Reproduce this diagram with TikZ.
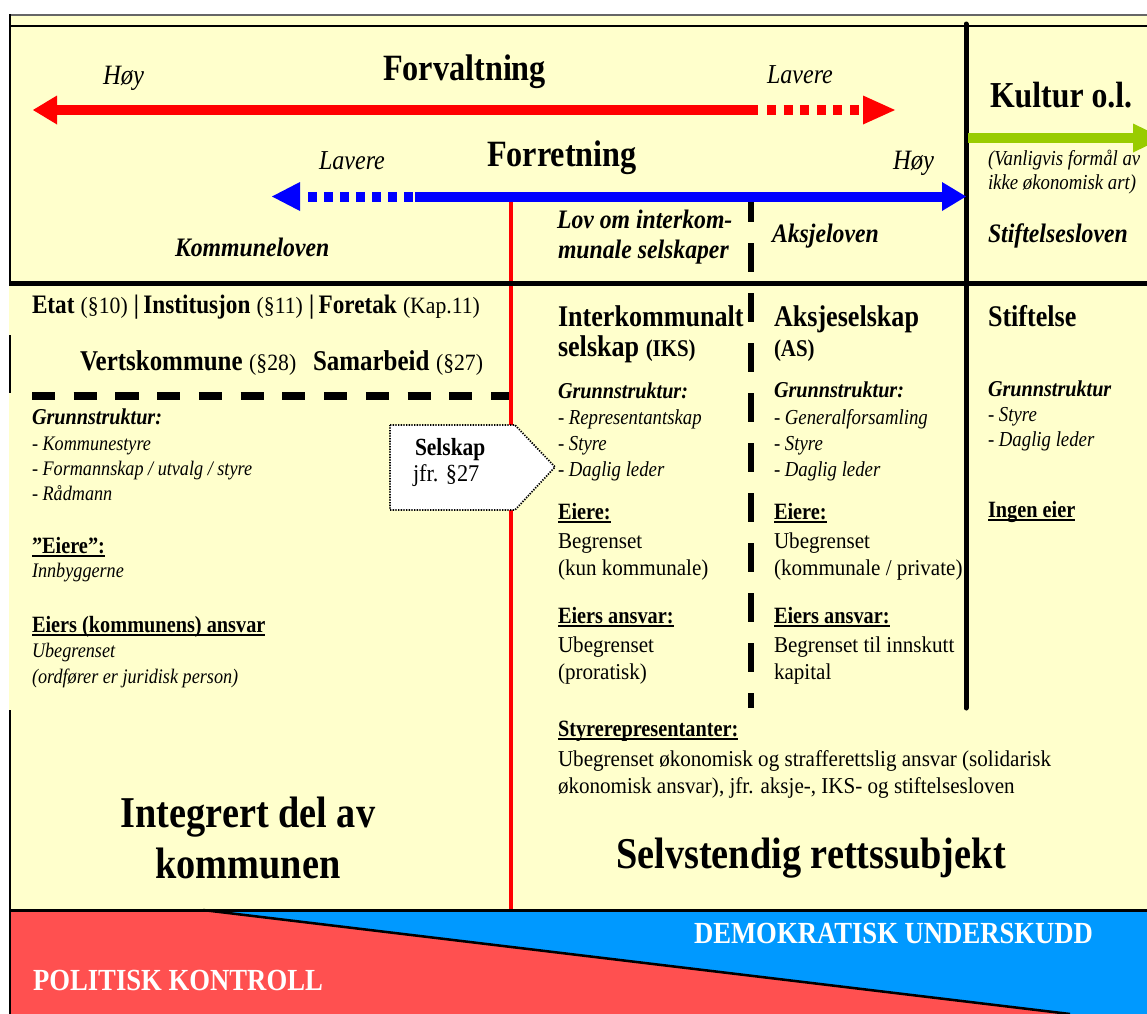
\documentclass[tikz,border=0pt]{standalone}
\usepackage{fontspec}
\setmainfont{Liberation Serif}[
  UprightFeatures={FakeStretch=0.93},
  ItalicFeatures={FakeStretch=0.88},
  BoldFeatures={FakeStretch=0.87},
  BoldItalicFeatures={FakeStretch=0.89}]
\definecolor{paper}{HTML}{FFFFCC}
\definecolor{barred}{HTML}{FF0000}
\definecolor{barblue}{HTML}{0000FF}
\definecolor{bargreen}{HTML}{99CC00}
\definecolor{bandred}{HTML}{FF5050}
\definecolor{bandblue}{HTML}{0099FF}
\newcommand\fsz[1]{\fontsize{#1pt}{#1pt}\selectfont}
\newcommand\ulin[1]{\setbox0=\hbox{#1}\rlap{\rule[-3.2pt]{\wd0}{1.6pt}}\box0}
\tikzset{
  tl/.style={anchor=base west, inner sep=0pt, outer sep=0pt},
  tc/.style={anchor=base, inner sep=0pt, outer sep=0pt},
  hd/.style={font=\fsz{20}\bfseries\itshape},
  sub/.style={font=\fsz{17}\bfseries\itshape},
  item/.style={font=\fsz{16}\itshape},
  body/.style={font=\fsz{17}},
  ulh/.style={font=\fsz{17.5}\bfseries},
}
\begin{document}
\begin{tikzpicture}[x=0.75pt,y=-0.75pt]
\useasboundingbox (0,0) rectangle (1147,1014);
\fill[white] (0,0) rectangle (1147,1014);
% background panel
\fill[paper] (9,14) rectangle (1147,910);

% outer frame lines
\draw[black!60, line width=1.5pt] (9,14.5) -- (1147,14.5);
\draw[black, line width=1.5pt] (9,25.5) -- (1147,25.5);
\draw[black, line width=1.5pt] (9.5,14) -- (9.5,283);
\draw[black, line width=1.5pt] (9.5,335) -- (9.5,393);
\draw[black, line width=1.5pt] (9.5,710) -- (9.5,1014);

% red separator between integrated and independent units
\coordinate (redtop) at (511,202);
\coordinate (redbot) at (511,910);
\draw[barred, line width=3pt] (redtop) -- (redbot);

% dashed separator IKS / AS
\coordinate (dashtop) at (751,193);
\coordinate (dashbot) at (751,708);
\draw[black, line width=4.5pt, dash pattern=on 21.75pt off 15.75pt] (dashtop) -- (dashbot);

% solid separator AS / foundation
\coordinate (soltop) at (966,24);
\coordinate (solbot) at (966,708);
\draw[black, line width=3.75pt, line cap=round] (soltop) -- (solbot);

% horizontal divider
\draw[black, line width=3.75pt] (9,283) -- (1147,283);

% dashed line under the municipal forms
\draw[black, line width=6pt, dash pattern=on 17.3pt off 14pt] (32,396) -- (509,396);

% --- red scale (Forvaltning) ---
\fill[barred] (33,110) -- (57,95.5) -- (57,124.5) -- cycle;
\fill[barred] (56,105) rectangle (758,115);
\draw[barred, line width=7.5pt, dash pattern=on 6.75pt off 5.7pt] (767,110) -- (860,110);
\fill[barred] (895,110) -- (863,95.5) -- (863,124.5) -- cycle;

% --- blue scale (Forretning) ---
\fill[barblue] (272,196.5) -- (300,182) -- (300,211) -- cycle;
\draw[barblue, line width=7.5pt, dash pattern=on 6.75pt off 5.25pt] (308,196.5) -- (414,196.5);
\fill[barblue] (415,191.5) rectangle (943,201.5);
\fill[barblue] (966,196.5) -- (942,182) -- (942,211) -- cycle;

% --- green arrow (Kultur) ---
\fill[bargreen] (968,133) rectangle (1134,143);
\fill[bargreen] (1163,138) -- (1133,123.5) -- (1133,152.5) -- cycle;

% top labels
\node[tl] (hoyA) at (103,84) {\fsz{21}\itshape Høy};
\node[tl] (forv) at (383,80) {\fsz{27.8}\bfseries Forvaltning};
\node[tl] (lavA) at (767,83) {\fsz{20.5}\itshape Lavere};
\node[tl] (forr) at (487,166) {\fsz{27.8}\bfseries Forretning};
\node[tl] (lavB) at (319,169) {\fsz{20.5}\itshape Lavere};
\node[tl] (hoyB) at (893,169) {\fsz{21}\itshape Høy};
\node[tl] (kult) at (990,107) {\fsz{27.4}\bfseries Kultur o.l.};
\node[tl] (vanl1) at (988,165) {\fsz{16}\itshape (Vanligvis formål av};
\node[tl] (vanl2) at (988,189) {\fsz{16}\itshape ikke økonomisk art)};
\node[tl, hd] (komlov) at (175,256) {Kommuneloven};
\node[tl, hd] (ikslov1) at (557,228) {Lov om interkom-};
\node[tl, hd] (ikslov2) at (558,258) {munale selskaper};
\node[tl, hd] (akslov) at (772,242) {Aksjeloven};
\node[tl, hd] (stlov) at (988,242) {Stiftelsesloven};

% left column: municipal forms
\node[tl] (etat) at (32,313) {\fsz{20}\textbf{Etat} {\fsz{17.5}(§10)} \textbf{|\,Institusjon} {\fsz{17.5}(§11)} \textbf{|\,Foretak} {\fsz{17.5}(Kap.11)}};
\node[tl] (vertsk) at (80,370) {\fsz{21.5}\textbf{Vertskommune} {\fsz{17.5}(§28)}};
\node[tl] (samarb) at (313,370) {\fsz{21.5}\textbf{Samarbeid} {\fsz{17.5}(§27)}};

\node[tl, sub] (lgs) at (32,424) {Grunnstruktur:};
\node[tl, item, font=\fsz{15.5}\itshape] (li1) at (32,450) {- Kommunestyre};
\node[tl, item, font=\fsz{15.5}\itshape] (li2) at (32,475) {- Formannskap / utvalg / styre};
\node[tl, item, font=\fsz{15.5}\itshape] (li3) at (32,500) {- Rådmann};
\node[tl, ulh] (leie) at (32,553) {\ulin{”Eiere”:}};
\node[tl, item, font=\fsz{15.5}\itshape] (leie1) at (32,577) {Innbyggerne};
\node[tl, ulh] (lans) at (32,632) {\ulin{Eiers (kommunens) ansvar}};
\node[tl, item, font=\fsz{15.5}\itshape] (lans1) at (32,657) {Ubegrenset};
\node[tl, item, font=\fsz{15.5}\itshape] (lans2) at (32,683) {(ordfører er juridisk person)};

% company box pointing into the IKS column
\draw[black, line width=1.3pt, dash pattern=on 1pt off 1pt, fill=white]
  (390,425) -- (515,425) -- (555,467) -- (515,510) -- (390,510) -- cycle;
\node[tl] (selsk1) at (415,455) {\fsz{18.5}\bfseries Selskap};
\node[tl] (selsk2) at (413,481) {\fsz{18}jfr. §27};

% IKS column
\node[tl] (iksh1) at (558,326) {\fsz{22.5}\bfseries Interkommunalt};
\node[tl] (iksh2) at (558,356) {\fsz{22.5}\bfseries selskap {\fsz{18}(IKS)}};
\node[tl, sub] (iksgs) at (558,398) {Grunnstruktur:};
\node[tl, item] (iksi1) at (558,424) {- Representantskap};
\node[tl, item] (iksi2) at (558,450) {- Styre};
\node[tl, item] (iksi3) at (558,476) {- Daglig leder};
\node[tl, ulh] (ikse) at (558,519) {\ulin{Eiere:}};
\node[tl, body] (ikse1) at (558,548) {Begrenset};
\node[tl, body] (ikse2) at (558,575) {(kun kommunale)};
\node[tl, ulh] (iksa) at (558,623) {\ulin{Eiers ansvar:}};
\node[tl, body] (iksa1) at (558,652) {Ubegrenset};
\node[tl, body] (iksa2) at (558,679) {(proratisk)};

% AS column
\node[tl] (ash1) at (774,326) {\fsz{22.5}\bfseries Aksjeselskap};
\node[tl] (ash2) at (774,356) {\fsz{18}\bfseries (AS)};
\node[tl, sub] (asgs) at (774,397) {Grunnstruktur:};
\node[tl, item] (asi1) at (774,424) {- Generalforsamling};
\node[tl, item] (asi2) at (774,450) {- Styre};
\node[tl, item] (asi3) at (774,476) {- Daglig leder};
\node[tl, ulh] (ase) at (774,519) {\ulin{Eiere:}};
\node[tl, body] (ase1) at (774,548) {Ubegrenset};
\node[tl, body] (ase2) at (774,575) {(kommunale / private)};
\node[tl, ulh] (asa) at (774,623) {\ulin{Eiers ansvar:}};
\node[tl, body] (asa1) at (774,652) {Begrenset til innskutt};
\node[tl, body] (asa2) at (774,679) {kapital};

% foundation column
\node[tl] (sth1) at (988,326) {\fsz{22.5}\bfseries Stiftelse};
\node[tl, sub] (stgs) at (988,396) {Grunnstruktur};
\node[tl, item] (sti1) at (988,421) {- Styre};
\node[tl, item] (sti2) at (988,446) {- Daglig leder};
\node[tl, ulh] (ste) at (988,517) {\ulin{Ingen eier}};

% board members
\node[tl, ulh] (styr) at (558,736) {\ulin{Styrerepresentanter:}};
\node[tl, body] (styr1) at (558,766) {Ubegrenset økonomisk og strafferettslig ansvar (solidarisk};
\node[tl, body] (styr2) at (558,793) {økonomisk ansvar), jfr. aksje-, IKS- og stiftelsesloven};

% big labels
\node[tc] (integ1) at (248,827) {\fsz{33}\bfseries Integrert del av};
\node[tc] (integ2) at (248,878) {\fsz{33}\bfseries kommunen};
\node[tc] (selvst) at (811,868) {\fsz{33}\bfseries Selvstendig rettssubjekt};

% bottom band
\fill[bandblue] (203,910) -- (1147,910) -- (1147,1014) -- (1070,1014) -- cycle;
\fill[bandred] (9,910) -- (203,910) -- (1070,1014) -- (9,1014) -- cycle;
\coordinate (diagA) at (203,910);
\coordinate (diagB) at (1070,1014);
\draw[black, line width=1.9pt] (diagA) -- (diagB);
\draw[black, line width=2.25pt] (9,910) -- (1147,910);
\draw[black, line width=1.5pt] (9.5,910) -- (9.5,1014);
\node[tl, text=white] (polk) at (33,990) {\fsz{23}\bfseries POLITISK KONTROLL};
\node[tl, text=white] (demu) at (694,943) {\fsz{23}\bfseries DEMOKRATISK UNDERSKUDD};
\end{tikzpicture}
\end{document}
